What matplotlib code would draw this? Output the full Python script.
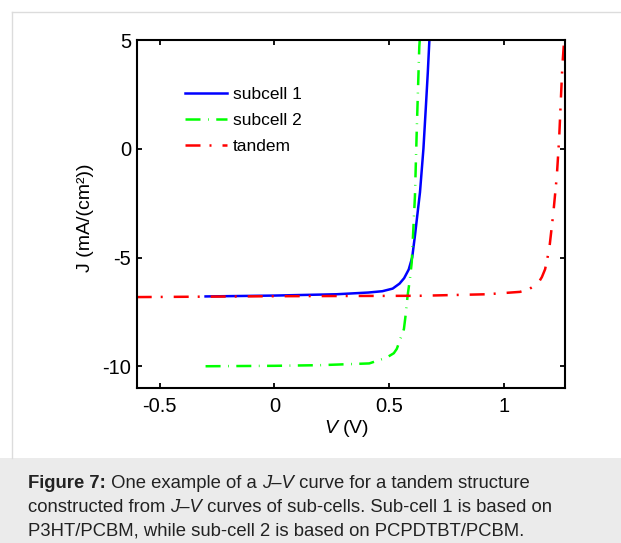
import matplotlib
matplotlib.use("Agg")
import matplotlib.pyplot as plt
from matplotlib.patches import Rectangle
from matplotlib.lines import Line2D

plt.rcParams['font.family'] = ['Liberation Sans', 'DejaVu Sans']
plt.rcParams['mathtext.fontset'] = 'custom'
plt.rcParams['mathtext.rm'] = 'Liberation Sans'
plt.rcParams['mathtext.it'] = 'Liberation Sans:italic'
plt.rcParams['mathtext.bf'] = 'Liberation Sans:bold'

# subcell 1 (P3HT/PCBM)
sub1_v = [-0.3, 0.0, 0.27, 0.41, 0.47, 0.515, 0.545, 0.565, 0.585, 0.60, 0.612,
          0.634, 0.649, 0.660, 0.668, 0.675]
sub1_j = [-6.79, -6.75, -6.69, -6.61, -6.55, -6.43, -6.2, -5.95, -5.55, -5.0, -4.0,
          -2.0, 0.0, 2.0, 3.5, 5.0]

# subcell 2 (PCPDTBT/PCBM)
sub2_v = [-0.3, 0.0, 0.2, 0.413, 0.489, 0.52, 0.533, 0.55, 0.564, 0.572, 0.58,
          0.59, 0.598, 0.612, 0.62, 0.631, 0.633]
sub2_j = [-10.0, -9.98, -9.95, -9.87, -9.6, -9.4, -9.2, -8.7, -8.29, -7.6, -6.76,
          -6.0, -5.23, -2.18, 0.875, 4.7, 5.0]

# tandem
tan_v = [-0.6, -0.3, 0.0, 0.3, 0.634, 0.925, 1.07, 1.113, 1.149, 1.165, 1.179,
         1.197, 1.215, 1.23, 1.24, 1.247, 1.254, 1.261, 1.265]
tan_j = [-6.82, -6.8, -6.78, -6.77, -6.76, -6.69, -6.58, -6.43, -6.18, -5.9, -5.54,
         -4.62, -2.94, -1.26, 0.42, 2.1, 3.78, 4.85, 5.0]

xticks = [-0.5, 0, 0.5, 1]
xticklabels = ['-0.5', '0', '0.5', '1']
yticks = [-10, -5, 0, 5]
yticklabels = ['-10', '-5', '0', '5']

W, H = 621, 543
fig = plt.figure(figsize=(W / 100, H / 100), dpi=100)
fig.patch.set_facecolor('white')

# caption box and thin frame of the figure panel
fig.patches.append(Rectangle((0, 0), 1, (H - 458) / H, transform=fig.transFigure,
                             facecolor='#ebebeb', edgecolor='none', zorder=0))
fig.add_artist(Line2D([11.5 / W, 11.5 / W], [(H - 458) / H, (H - 12) / H],
                      color='#dcdcdc', lw=1.0, transform=fig.transFigure))
fig.add_artist(Line2D([11.5 / W, 1], [(H - 12) / H, (H - 12) / H],
                      color='#dcdcdc', lw=1.0, transform=fig.transFigure))

ax = fig.add_axes([136.7 / W, (H - 388) / H, (565.3 - 136.7) / W, (388 - 40) / H])

lw = 1.8
ax.plot(sub1_v, sub1_j, color='#0000ff', lw=lw, ls='-', label='subcell 1')
ax.plot(sub2_v, sub2_j, color='#00ff00', lw=lw, ls=(0, (6.0, 3.0, 0.3, 3.0)),
        label='subcell 2')
ax.plot(tan_v, tan_j, color='#ff0000', lw=lw, ls=(0, (6.0, 3.6, 0.8, 4.4)),
        label='tandem')

ax.set_xlim(-0.6, 1.267)
ax.set_ylim(-11, 5)
ax.set_xticks(xticks)
ax.set_xticklabels(xticklabels)
ax.set_yticks(yticks)
ax.set_yticklabels(yticklabels)
ax.tick_params(direction='in', length=3.5, width=1.3, top=True, right=True,
               labelsize=14.5, colors='black')
ax.tick_params(axis='x', pad=6.5)
ax.tick_params(axis='y', pad=4)
for s in ax.spines.values():
    s.set_linewidth(1.5)

ax.set_xlabel(r'$\mathit{V}$ (V)', fontsize=14)
ax.set_ylabel('J (mA/(cm²))', fontsize=14)
ax.xaxis.set_label_coords(0.49, -0.085)
ax.yaxis.set_label_coords(-0.1, 0.49)

ax.legend(loc='upper left', bbox_to_anchor=(0.113, 0.866), frameon=False,
          fontsize=12.5, handlelength=2.42, handletextpad=0.35, labelspacing=0.62,
          borderpad=0, borderaxespad=0)

# caption, written run by run so bold / italic parts sit inline
cap_lines = [
    [('Figure 7:', 'normal', 'bold'), (' One example of a ', 'normal', 'normal'),
     ('J–V', 'italic', 'normal'), (' curve for a tandem structure', 'normal', 'normal')],
    [('constructed from ', 'normal', 'normal'), ('J–V', 'italic', 'normal'),
     (' curves of sub-cells. Sub-cell 1 is based on', 'normal', 'normal')],
    [('P3HT/PCBM, while sub-cell 2 is based on PCPDTBT/PCBM.', 'normal', 'normal')],
]
renderer = fig.canvas.get_renderer()
for i, runs in enumerate(cap_lines):
    x = 28.0
    y = 1 - (487.7 + 24 * i) / H
    for txt, style, weight in runs:
        t = fig.text(x / W, y, txt, fontsize=13.3, color='#222222', style=style,
                     weight=weight, ha='left', va='baseline')
        x += t.get_window_extent(renderer).width

fig.savefig('out.png', dpi=100)
